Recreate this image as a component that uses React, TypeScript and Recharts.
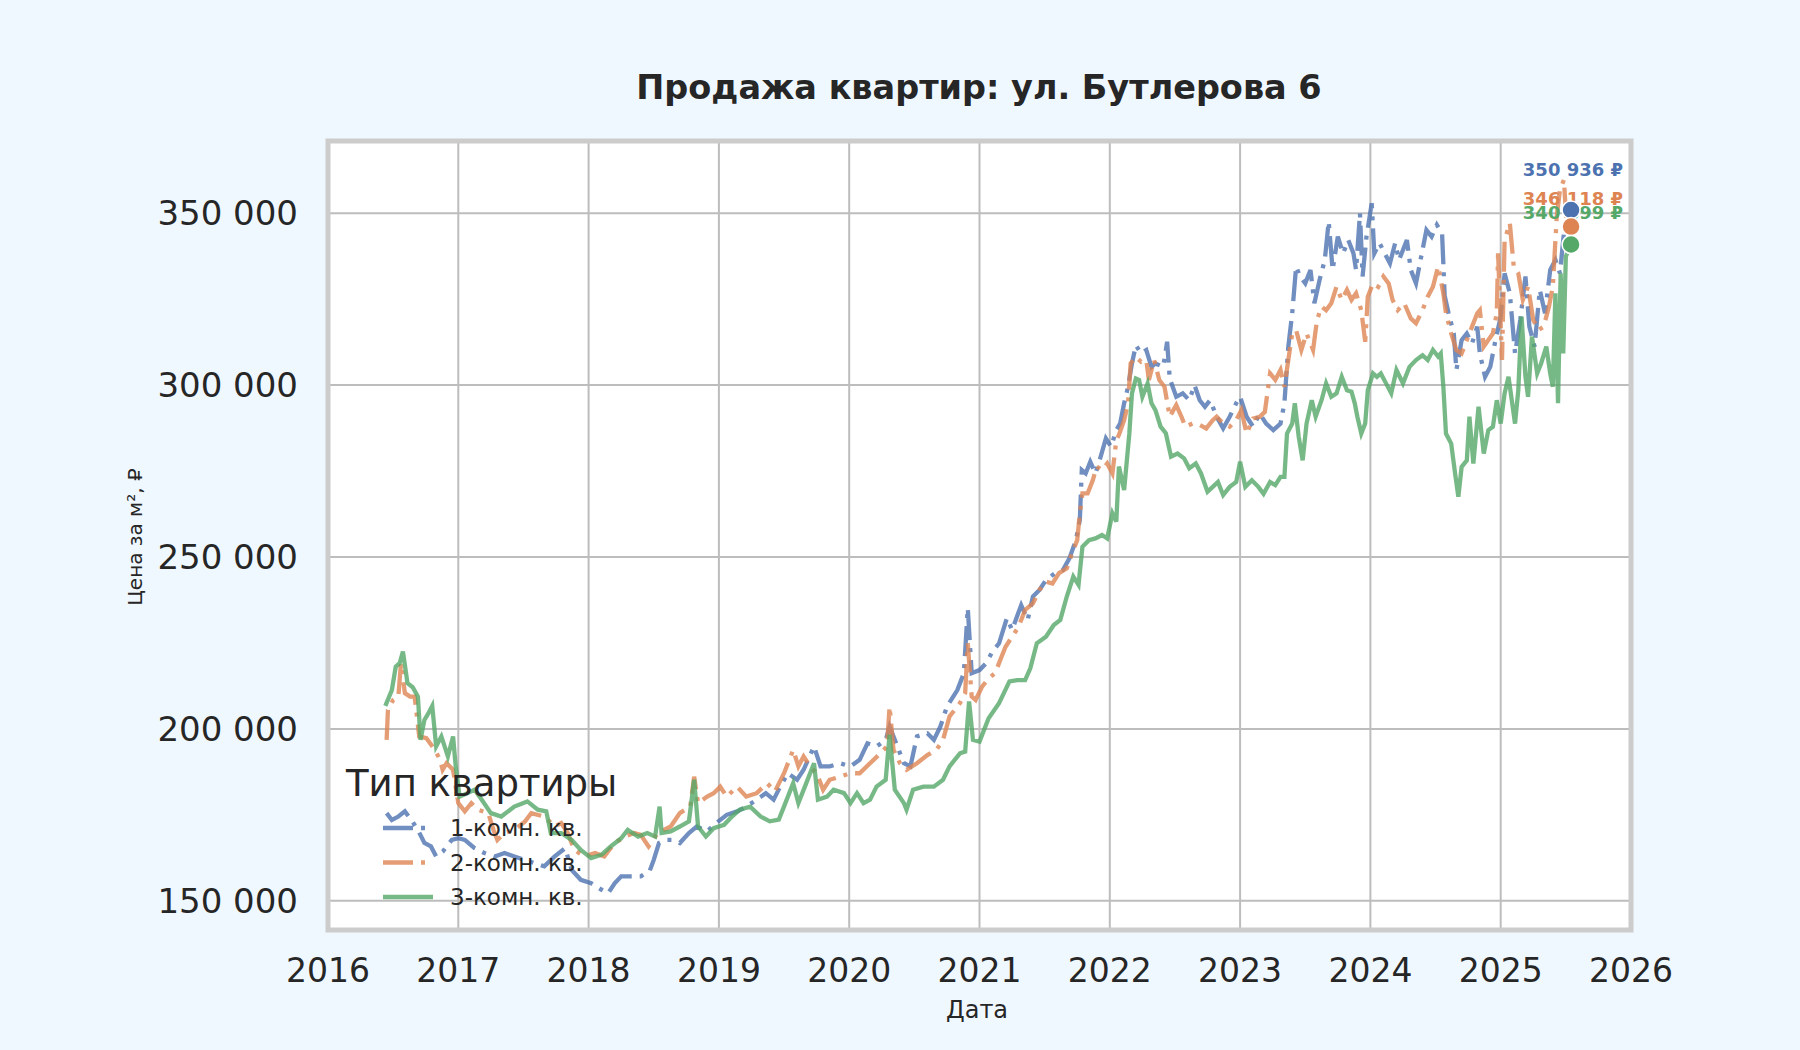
import React from 'react';
import { LineChart, Line, XAxis, YAxis, CartesianGrid, ReferenceDot, ReferenceArea } from 'recharts';

// ---------- data ----------
const yearTicks = [2016, 2017, 2018, 2019, 2020, 2021, 2022, 2023, 2024, 2025, 2026];
const priceTicks = [150000, 200000, 250000, 300000, 350000];

const oneRoomDates = [
  2016.45, 2016.49, 2016.54, 2016.59, 2016.64, 2016.69, 2016.74, 2016.79, 2016.83, 2016.88, 2016.95,
  2017.0, 2017.05, 2017.125, 2017.2, 2017.28, 2017.355, 2017.43, 2017.51, 2017.59, 2017.66, 2017.74,
  2017.82, 2017.87, 2017.94, 2018.02, 2018.1, 2018.15, 2018.2, 2018.25, 2018.33, 2018.4, 2018.47,
  2018.5, 2018.54, 2018.59, 2018.65, 2018.7, 2018.77, 2018.83, 2018.91, 2018.98, 2019.06, 2019.14,
  2019.21, 2019.29, 2019.36, 2019.42, 2019.47, 2019.53, 2019.6, 2019.65, 2019.73, 2019.78, 2019.85,
  2019.93, 2020.01, 2020.08, 2020.14, 2020.21, 2020.28, 2020.31, 2020.37, 2020.42, 2020.47, 2020.52,
  2020.6, 2020.65, 2020.7, 2020.75, 2020.83, 2020.88, 2020.91, 2020.94, 2021.0, 2021.05, 2021.1,
  2021.15, 2021.21, 2021.25, 2021.32, 2021.37, 2021.41, 2021.46, 2021.51, 2021.58, 2021.64, 2021.69,
  2021.74, 2021.77, 2021.785, 2021.815, 2021.85, 2021.89, 2021.93, 2021.97, 2022.01, 2022.05, 2022.08,
  2022.11, 2022.14, 2022.17, 2022.2, 2022.24, 2022.28, 2022.32, 2022.35, 2022.41, 2022.44, 2022.46,
  2022.51, 2022.56, 2022.61, 2022.65, 2022.69, 2022.73, 2022.77, 2022.82, 2022.87, 2022.92, 2022.97,
  2023.0, 2023.05, 2023.1, 2023.15, 2023.2, 2023.255, 2023.31, 2023.34, 2023.37, 2023.4, 2023.43,
  2023.46, 2023.5, 2023.54, 2023.57, 2023.61, 2023.65, 2023.68, 2023.71, 2023.75, 2023.79, 2023.83,
  2023.87, 2023.89, 2023.92, 2023.94, 2023.97, 2024.01, 2024.03, 2024.07, 2024.11, 2024.15, 2024.19,
  2024.22, 2024.28, 2024.31, 2024.35, 2024.39, 2024.43, 2024.47, 2024.51, 2024.55, 2024.57, 2024.6,
  2024.64, 2024.66, 2024.7, 2024.74, 2024.78, 2024.82, 2024.84, 2024.88, 2024.92, 2024.96, 2025.0,
  2025.03, 2025.07, 2025.11, 2025.15, 2025.19, 2025.22, 2025.26, 2025.3, 2025.34, 2025.38, 2025.42,
  2025.455, 2025.495, 2025.54,
];
const oneRoomPrices = [
  175500, 173500, 174500, 176000, 173500, 170600, 166800, 165800, 162900, 164300, 167700,
  168200, 167700, 165300, 163900, 162900, 163900, 162900, 161900, 160900, 160000, 162900,
  165300, 159000, 156100, 155100, 153200, 152200, 155100, 157100, 157100, 157100, 158800,
  161900, 166800, 167700, 167700, 166800, 169700, 171600, 170200, 172600, 175000, 176000,
  177400, 179400, 181300, 179400, 183200, 187100, 185200, 188100, 194900, 189100, 189100,
  190000, 189100, 191000, 195800, 194900, 196800, 200700, 194900, 190000, 189100, 197800,
  198700, 196800, 200700, 206500, 211300, 216200, 235100, 216200, 217100, 219100, 222500,
  224900, 232200, 228800, 236000, 231700, 238500, 240400, 243300, 245300, 246200, 249600,
  254900, 260800, 275300, 274300, 277700, 274300, 279200, 284500, 282100, 286900, 288900,
  294700, 299500, 306300, 311600, 309200, 310200, 305300, 306300, 305300, 312600, 301900,
  296600, 297600, 295600, 300000, 295600, 293700, 295600, 290800, 287400, 290800, 294700,
  296600, 290800, 287900, 291700, 288800, 286900, 288800, 294700, 311200, 320900, 334500,
  331600, 329600, 333500, 323800, 330600, 336400, 347600, 333500, 343200, 338300, 342200,
  338300, 333500, 350000, 331600, 343200, 352900, 338300, 341300, 338300, 335400, 341300,
  336400, 342200, 333500, 329600, 337400, 345100, 343200, 346600, 344200, 326000, 320900,
  315000, 304400, 313100, 315000, 312100, 317000, 309200, 302400, 305300, 313100, 319900,
  332500, 326700, 309200, 318900, 331600, 317000, 311200, 327700, 320900, 333500, 336400,
  332500, 348100, 350936,
];

const twoRoomDates = [
  2016.45, 2016.46, 2016.5, 2016.54, 2016.56, 2016.59, 2016.63, 2016.665, 2016.7, 2016.755, 2016.82,
  2016.86, 2016.88, 2016.91, 2016.96, 2017.0, 2017.05, 2017.1, 2017.15, 2017.23, 2017.27, 2017.3,
  2017.355, 2017.43, 2017.51, 2017.56, 2017.66, 2017.74, 2017.79, 2017.84, 2017.89, 2017.97, 2018.05,
  2018.12, 2018.2, 2018.28, 2018.35, 2018.4, 2018.46, 2018.53, 2018.63, 2018.7, 2018.78, 2018.81,
  2018.84, 2018.91, 2018.96, 2019.01, 2019.06, 2019.14, 2019.21, 2019.29, 2019.37, 2019.43, 2019.5,
  2019.57, 2019.61, 2019.65, 2019.7, 2019.75, 2019.8, 2019.85, 2019.93, 2020.01, 2020.08, 2020.16,
  2020.24, 2020.29, 2020.31, 2020.34, 2020.39, 2020.44, 2020.52, 2020.6, 2020.67, 2020.72, 2020.77,
  2020.85, 2020.89, 2020.91, 2020.94, 2020.97, 2021.02, 2021.07, 2021.12, 2021.16, 2021.2, 2021.25,
  2021.3, 2021.35, 2021.41, 2021.46, 2021.51, 2021.56, 2021.61, 2021.67, 2021.71, 2021.75, 2021.77,
  2021.79, 2021.83, 2021.87, 2021.9, 2021.94, 2021.98, 2022.02, 2022.05, 2022.07, 2022.11, 2022.14,
  2022.16, 2022.2, 2022.24, 2022.28, 2022.3, 2022.34, 2022.38, 2022.42, 2022.46, 2022.51, 2022.55,
  2022.58, 2022.64, 2022.69, 2022.74, 2022.79, 2022.82, 2022.87, 2022.92, 2022.97, 2023.01, 2023.05,
  2023.1, 2023.15, 2023.19, 2023.23, 2023.27, 2023.31, 2023.34, 2023.37, 2023.4, 2023.43, 2023.47,
  2023.51, 2023.56, 2023.59, 2023.625, 2023.66, 2023.7, 2023.74, 2023.78, 2023.82, 2023.855, 2023.89,
  2023.93, 2023.96, 2023.98, 2024.02, 2024.06, 2024.1, 2024.14, 2024.17, 2024.21, 2024.26, 2024.31,
  2024.35, 2024.4, 2024.44, 2024.48, 2024.52, 2024.56, 2024.58, 2024.62, 2024.66, 2024.7, 2024.74,
  2024.78, 2024.82, 2024.84, 2024.87, 2024.905, 2024.94, 2024.97, 2024.98, 2025.01, 2025.03, 2025.07,
  2025.1, 2025.135, 2025.17, 2025.21, 2025.25, 2025.29, 2025.33, 2025.37, 2025.4, 2025.43, 2025.455,
  2025.485, 2025.51, 2025.54,
];
const twoRoomPrices = [
  196800, 205500, 208400, 209400, 219100, 210400, 209400, 209400, 197800, 197300, 193900,
  191000, 188100, 190000, 188100, 178400, 176000, 178400, 176500, 175500, 170600, 167700,
  169700, 170600, 173000, 175500, 174500, 171600, 172600, 169700, 164800, 162900, 163900,
  162900, 166800, 168700, 169700, 169200, 165800, 169700, 171600, 175500, 177400, 186100,
  178400, 180300, 181300, 183200, 180300, 183200, 180300, 181300, 184200, 181800, 187100,
  193900, 189100, 192000, 189100, 187100, 182300, 185200, 186100, 187100, 187100, 190000,
  192900, 194900, 206500, 193900, 190000, 188100, 190000, 192400, 193900, 196800, 203600,
  207500, 210400, 224900, 209400, 208400, 212300, 214700, 216200, 220100, 223900, 226800,
  229700, 234600, 236500, 240400, 242800, 242300, 245300, 246700, 251100, 254900, 262700,
  268500, 268500, 272400, 276300, 275300, 277200, 274300, 284000, 285500, 289800, 294700,
  306300, 308200, 306800, 307300, 301500, 307300, 301500, 299500, 290800, 294200, 290800,
  287900, 288900, 288400, 287400, 289800, 290800, 288800, 287900, 289800, 292700, 285900,
  290300, 290800, 292200, 303400, 301500, 304400, 299500, 307300, 315000, 316000, 310200,
  315000, 310200, 318900, 322800, 321800, 323800, 328600, 324800, 327700, 324800, 326700,
  321800, 312600, 325700, 329600, 328600, 331600, 329600, 324800, 321800, 323800, 319400,
  318000, 321800, 325700, 328600, 334500, 326700, 320900, 315000, 310200, 309200, 313100,
  317000, 320900, 321800, 311200, 313100, 315000, 320900, 338300, 307300, 342200, 347100,
  334500, 332500, 324800, 328600, 318900, 316000, 317000, 322800, 328600, 349000, 356800,
  359700, 344200, 346118,
];

const threeRoomDates = [
  2016.44, 2016.49, 2016.52, 2016.55, 2016.575, 2016.61, 2016.65, 2016.69, 2016.71, 2016.74, 2016.77,
  2016.8, 2016.83, 2016.87, 2016.92, 2016.96, 2016.98, 2017.01, 2017.07, 2017.125, 2017.18, 2017.25,
  2017.33, 2017.43, 2017.53, 2017.61, 2017.675, 2017.71, 2017.79, 2017.87, 2017.94, 2018.02, 2018.1,
  2018.17, 2018.25, 2018.3, 2018.38, 2018.45, 2018.51, 2018.545, 2018.56, 2018.63, 2018.7, 2018.77,
  2018.81, 2018.84, 2018.9, 2018.96, 2019.04, 2019.1, 2019.16, 2019.24, 2019.32, 2019.39, 2019.46,
  2019.51, 2019.57, 2019.61, 2019.66, 2019.73, 2019.76, 2019.83, 2019.88, 2019.96, 2020.01, 2020.06,
  2020.11, 2020.16, 2020.21, 2020.28, 2020.31, 2020.35, 2020.42, 2020.44, 2020.49, 2020.57, 2020.65,
  2020.72, 2020.77, 2020.85, 2020.89, 2020.92, 2020.95, 2021.0, 2021.07, 2021.15, 2021.23, 2021.29,
  2021.35, 2021.39, 2021.44, 2021.51, 2021.57, 2021.62, 2021.67, 2021.72, 2021.76, 2021.79, 2021.84,
  2021.89, 2021.94, 2021.98, 2022.02, 2022.05, 2022.07, 2022.11, 2022.15, 2022.17, 2022.2, 2022.225,
  2022.25, 2022.29, 2022.32, 2022.35, 2022.39, 2022.43, 2022.47, 2022.52, 2022.57, 2022.61, 2022.66,
  2022.7, 2022.75, 2022.79, 2022.83, 2022.87, 2022.92, 2022.97, 2023.0, 2023.04, 2023.09, 2023.14,
  2023.18, 2023.23, 2023.27, 2023.31, 2023.34, 2023.36, 2023.4, 2023.42, 2023.45, 2023.48, 2023.51,
  2023.55, 2023.58, 2023.625, 2023.66, 2023.7, 2023.74, 2023.78, 2023.82, 2023.855, 2023.88, 2023.9,
  2023.93, 2023.96, 2023.98, 2024.02, 2024.05, 2024.08, 2024.12, 2024.16, 2024.2, 2024.25, 2024.3,
  2024.35, 2024.4, 2024.44, 2024.48, 2024.52, 2024.54, 2024.56, 2024.58, 2024.62, 2024.65, 2024.675,
  2024.7, 2024.74, 2024.76, 2024.79, 2024.83, 2024.87, 2024.905, 2024.94, 2024.97, 2025.0, 2025.03,
  2025.06, 2025.085, 2025.11, 2025.135, 2025.16, 2025.19, 2025.21, 2025.24, 2025.28, 2025.31, 2025.35,
  2025.38, 2025.4, 2025.42, 2025.44, 2025.46, 2025.48, 2025.5, 2025.54,
];
const threeRoomPrices = [
  206700, 211300, 218100, 219100, 222500, 213300, 212100, 209400, 196800, 202600, 204500,
  206700, 194900, 197800, 192000, 197800, 189100, 180300, 181300, 182300, 179400, 175500,
  174500, 177400, 178900, 176500, 176000, 169700, 169700, 167700, 164800, 162400, 163400,
  165800, 168200, 170600, 168700, 169700, 168700, 177400, 169700, 170200, 171600, 173100,
  185200, 171600, 168700, 171100, 172100, 174500, 176500, 177400, 174500, 173100, 173600,
  178400, 184200, 178400, 183200, 190000, 179400, 180300, 182300, 181300, 178400, 181300,
  178400, 179400, 183200, 185200, 198300, 182300, 178400, 176500, 182300, 183200, 183200,
  185200, 189100, 192900, 193400, 208000, 196800, 196300, 203100, 207500, 213800, 214200,
  214200, 217600, 224900, 226800, 230200, 231700, 238500, 244300, 241900, 253000, 254900,
  255400, 256400, 255400, 262700, 260300, 276300, 269500, 286000, 297600, 301900, 301500,
  296600, 300500, 294700, 292700, 287900, 286000, 279200, 280100, 278700, 275800, 277200,
  274300, 269000, 270400, 271800, 268000, 270400, 271800, 277700, 270400, 272300, 270400,
  268400, 271800, 270900, 273300, 273300, 285900, 288800, 294700, 284900, 278100, 288800,
  295600, 290800, 295600, 300500, 296600, 297600, 302400, 298500, 298100, 294700, 290800,
  285900, 288800, 298500, 303400, 302400, 303400, 300500, 297600, 304400, 300500, 305300,
  307300, 308700, 307300, 310200, 308300, 309200, 299500, 285900, 283000, 274300, 267500,
  276200, 278100, 290800, 277200, 293700, 280100, 286900, 287900, 295600, 288800, 297600,
  302400, 295600, 288800, 298500, 319900, 302400, 296600, 314100, 303400, 306300, 311200,
  303400, 299500, 326700, 294700, 332500, 309200, 337400, 340899,
];

// ---------- styles ----------
const FONT = '"DejaVu Sans", "Noto Sans", sans-serif';
const TEXT = '#262626';
const Y_MIN = 141500;
const Y_MAX = 371000;

const zip = (dates: number[], prices: number[]) => dates.map((t, i) => ({ t, v: prices[i] }));

const fmtThousands = (n: number) => String(Math.round(n)).replace(/\B(?=(\d{3})+(?!\d))/g, ' ');

const SERIES = [
  { key: 'one', name: '1-комн. кв.', color: '#4c72b0', dash: '30 8 4 8', data: zip(oneRoomDates, oneRoomPrices), labelDy: -40 },
  { key: 'two', name: '2-комн. кв.', color: '#dd8452', dash: '30 8 4 8', data: zip(twoRoomDates, twoRoomPrices), labelDy: -28 },
  { key: 'three', name: '3-комн. кв.', color: '#55a868', dash: undefined as string | undefined, data: zip(threeRoomDates, threeRoomPrices), labelDy: -32 },
];

const ValueLabel = (props: any, color: string, text: string, dy: number) => {
  const vb = props.viewBox || {};
  const cx = (vb.x ?? 0) + (vb.width ?? 0) / 2;
  const cy = (vb.y ?? 0) + (vb.height ?? 0) / 2;
  return (
    <text
      x={cx + 52}
      y={cy + dy}
      textAnchor="end"
      dominantBaseline="central"
      fill={color}
      fontFamily={FONT}
      fontSize={18}
      fontWeight="bold"
    >
      {text}
    </text>
  );
};

export default function App() {
  return (
    <div
      style={{
        position: 'absolute',
        left: 0,
        top: 0,
        width: 1800,
        height: 1050,
        background: '#f0f8ff',
        overflow: 'hidden',
      }}
    >
      <div style={{ position: 'absolute', left: 0, top: 0 }}>
        <LineChart width={1800} height={1050} margin={{ top: 141, right: 169, bottom: 0, left: 0 }}>
          <CartesianGrid stroke="#bdbdbd" strokeWidth={2} fill="#ffffff" fillOpacity={1} />
          <XAxis
            dataKey="t"
            type="number"
            domain={[2016, 2026]}
            ticks={yearTicks}
            allowDataOverflow
            height={120}
            axisLine={false}
            tickLine={false}
            tickSize={0}
            tickMargin={29}
            tick={{ fill: TEXT, fontSize: 33, fontFamily: FONT }}
            tickFormatter={(v: number) => String(Math.round(v))}
          />
          <YAxis
            type="number"
            domain={[Y_MIN, Y_MAX]}
            ticks={priceTicks}
            allowDataOverflow
            width={328}
            axisLine={false}
            tickLine={false}
            tickSize={0}
            tickMargin={30}
            tick={{ fill: TEXT, fontSize: 34, fontFamily: FONT }}
            tickFormatter={(v: number) => fmtThousands(v)}
          />
          <ReferenceArea
            x1={2016}
            x2={2026}
            y1={Y_MIN}
            y2={Y_MAX}
            fill="none"
            fillOpacity={0}
            stroke="#cccccc"
            strokeWidth={5}
            ifOverflow="visible"
          />
          {SERIES.map((s) => (
            <Line
              key={s.key}
              data={s.data}
              dataKey="v"
              name={s.name}
              type="linear"
              stroke={s.color}
              strokeOpacity={0.8}
              strokeWidth={4.3}
              strokeDasharray={s.dash}
              dot={false}
              activeDot={false}
              isAnimationActive={false}
            />
          ))}
          {SERIES.map((s) => {
            const last = s.data[s.data.length - 1];
            return (
              <ReferenceDot
                key={s.key + '-label'}
                x={last.t}
                y={last.v}
                r={1}
                fill="none"
                stroke="none"
                ifOverflow="visible"
                label={(p: any) => ValueLabel(p, s.color, fmtThousands(last.v) + ' ₽', s.labelDy)}
              />
            );
          })}
          {SERIES.map((s) => {
            const last = s.data[s.data.length - 1];
            return (
              <ReferenceDot
                key={s.key + '-dot'}
                x={last.t}
                y={last.v}
                r={9}
                fill={s.color}
                fillOpacity={1}
                stroke="#ffffff"
                strokeWidth={1.5}
                ifOverflow="visible"
              />
            );
          })}
        </LineChart>
      </div>
      <svg
        width={1800}
        height={1050}
        style={{ position: 'absolute', left: 0, top: 0, pointerEvents: 'none' }}
      >
        <text x={979} y={99} textAnchor="middle" fontFamily={FONT} fontSize={33.5} fontWeight="bold" fill={TEXT}>
          Продажа квартир: ул. Бутлерова 6
        </text>
        <text x={977} y={1018} textAnchor="middle" fontFamily={FONT} fontSize={24} fill={TEXT}>
          Дата
        </text>
        <text
          x={135}
          y={537}
          transform="rotate(-90 135 537)"
          textAnchor="middle"
          dominantBaseline="central"
          fontFamily={FONT}
          fontSize={20}
          fill={TEXT}
        >
          Цена за м², ₽
        </text>
        <g transform="translate(330,750)">
          <text x={16} y={46} fontFamily={FONT} fontSize={37} fill={TEXT}>
            Тип квартиры
          </text>
          {SERIES.map((s, i) => (
            <g key={s.key}>
              <line
                x1={53}
                x2={103}
                y1={78 + i * 34.5}
                y2={78 + i * 34.5}
                stroke={s.color}
                strokeOpacity={0.8}
                strokeWidth={4.3}
                strokeDasharray={s.dash}
              />
              <text
                x={120}
                y={78 + i * 34.5}
                dominantBaseline="central"
                fontFamily={FONT}
                fontSize={23}
                fill={TEXT}
              >
                {s.name}
              </text>
            </g>
          ))}
        </g>
      </svg>
    </div>
  );
}
